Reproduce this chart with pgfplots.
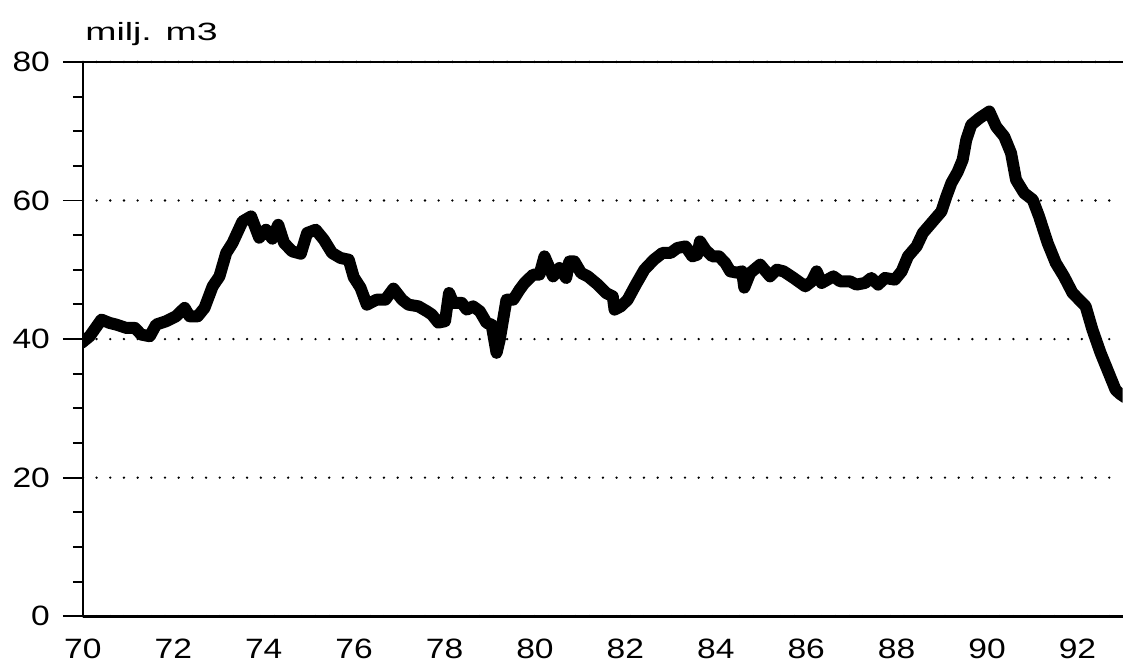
\documentclass[border=0pt]{standalone}
\usepackage{fontspec}
\setmainfont{Liberation Sans}[FakeStretch=1.2]
\usepackage{graphicx}
\usepackage{pgfplots}
\pgfplotsset{compat=1.18}

\begin{document}
\begin{tikzpicture}
\begin{axis}[
  scale only axis,
  width=520.5pt, height=277.5pt,
  xmin=70, xmax=93, ymin=0, ymax=80,
  axis x line=box, axis y line=left,
  axis line style={-, line width=1.3pt, black},
  every outer x axis line/.append style={-},
  every outer y axis line/.append style={-},
  xtick={70,72,...,92},
  ytick={0,20,...,80},
  minor y tick num=3,
  tick align=outside,
  major tick length=10pt, minor tick length=5pt,
  x tick style={draw=none},
  y tick style={line width=1pt, black},
  ymajorgrids,
  major grid style={line width=1.3pt, dash pattern=on 0pt off 6.85pt, line cap=round, black},
  tick label style={font=\fontsize{14}{16}\selectfont},
  yticklabel style={xshift=-3pt},
  xticklabel style={yshift=2pt},
  /pgf/number format/assume math mode=true,
  clip=true,
]
\addplot[black, line width=6pt, line join=round, line cap=round] coordinates {
(69.97,39.45) (70.15,40.41) (70.41,42.81) (70.59,42.33) (70.74,42.09) (70.96,41.61)
(71.15,41.61) (71.29,40.65) (71.48,40.41) (71.62,42.09) (71.84,42.57) (72.06,43.29)
(72.25,44.50) (72.36,43.29) (72.54,43.29) (72.69,44.50) (72.87,47.61) (73.02,49.05)
(73.17,52.43) (73.31,53.87) (73.53,56.98) (73.72,57.70) (73.90,54.63) (74.05,55.78)
(74.19,54.49) (74.32,56.50) (74.45,53.87) (74.63,52.66) (74.82,52.32) (74.96,55.31)
(75.15,55.78) (75.33,54.34) (75.51,52.43) (75.70,51.70) (75.88,51.46) (75.99,48.94)
(76.14,47.42) (76.28,44.97) (76.50,45.69) (76.69,45.69) (76.87,47.28) (77.06,45.69)
(77.20,44.97) (77.42,44.73) (77.61,44.01) (77.72,43.53) (77.86,42.38) (78.01,42.57)
(78.10,46.66) (78.19,45.22) (78.38,45.22) (78.49,44.25) (78.63,44.73) (78.78,44.01)
(78.93,42.33) (79.04,42.09) (79.15,38.01) (79.22,39.93) (79.37,45.69) (79.52,45.69)
(79.66,47.14) (79.77,48.10) (79.96,49.30) (80.10,49.30) (80.21,51.94) (80.40,49.05)
(80.54,50.26) (80.69,48.82) (80.76,51.21) (80.87,51.21) (81.02,49.54) (81.17,49.05)
(81.39,47.86) (81.57,46.66) (81.72,46.17) (81.76,44.25) (81.90,44.73) (82.05,45.69)
(82.23,47.86) (82.42,50.02) (82.63,51.46) (82.82,52.43) (83.00,52.43) (83.15,53.15)
(83.33,53.38) (83.48,51.94) (83.59,52.18) (83.65,54.10) (83.77,52.90) (83.92,51.94)
(84.07,51.94) (84.21,50.98) (84.32,49.77) (84.47,49.59) (84.58,49.77) (84.63,47.42)
(84.76,49.54) (84.98,50.74) (85.20,49.05) (85.35,50.02) (85.50,49.77) (85.72,48.82)
(85.98,47.61) (86.12,48.33) (86.23,49.77) (86.34,48.10) (86.60,49.05) (86.75,48.33)
(86.97,48.33) (87.11,47.86) (87.30,48.10) (87.44,48.82) (87.59,47.86) (87.74,48.82)
(87.96,48.58) (88.11,49.77) (88.25,51.94) (88.44,53.38) (88.58,55.31) (88.80,56.98)
(88.99,58.42) (89.10,60.58) (89.21,62.52) (89.35,64.14) (89.46,65.87) (89.54,68.76)
(89.65,70.92) (89.83,71.88) (90.05,72.84) (90.20,70.67) (90.38,69.23) (90.53,66.84)
(90.64,62.99) (90.82,61.07) (91.01,60.11) (91.15,57.70) (91.34,53.87) (91.52,50.98)
(91.70,49.05) (91.89,46.66) (92.18,44.73) (92.33,41.37) (92.51,38.01) (92.69,35.13)
(92.84,32.72) (92.93,32.14) (93.05,31.6)
};
\end{axis}
\node[anchor=base west, inner sep=0pt, font=\fontsize{12.5}{14}\selectfont]
  at ([xshift=1pt, yshift=10.5pt]current axis.north west) {\scalebox{1.25}[1]{milj. m3}};
\path ([xshift=-41.5pt, yshift=-20pt]current axis.south west) rectangle ([yshift=31pt]current axis.north east);
\end{tikzpicture}
\end{document}
